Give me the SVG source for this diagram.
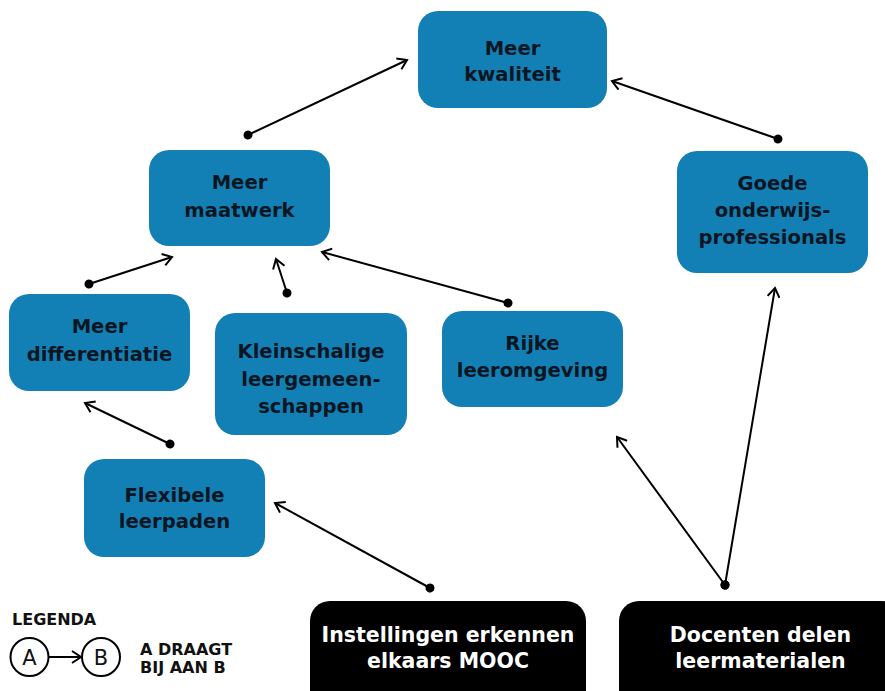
<svg xmlns="http://www.w3.org/2000/svg" width="885" height="691" viewBox="0 0 885 691">
  <style>
    .node rect { fill: #1380b5; }
    .node text { font-family: "DejaVu Sans", "Liberation Sans", sans-serif; font-weight: bold; font-size: 19.6px; fill: #0b1622; text-anchor: middle; }
    .root rect { fill: #000000; }
    .root text { font-family: "DejaVu Sans", "Liberation Sans", sans-serif; font-weight: bold; font-size: 20.5px; fill: #ffffff; text-anchor: middle; }
    .conn line { stroke: #000000; stroke-width: 2; marker-start: url(#dot); marker-end: url(#arrow); }
    .legend text { font-family: "DejaVu Sans", "Liberation Sans", sans-serif; font-weight: bold; font-size: 16px; fill: #111111; }
    .legend .letter { font-weight: normal; font-size: 21px; text-anchor: middle; }
    .legend circle { fill: #ffffff; stroke: #000000; stroke-width: 2; }
  </style>
  <defs>
    <marker id="arrow" markerUnits="userSpaceOnUse" viewBox="0 0 14 14" markerWidth="14" markerHeight="14" refX="12" refY="7" orient="auto">
      <path d="M3,1 L12,7 L3,13" fill="none" stroke="#000000" stroke-width="2"/>
    </marker>
    <marker id="dot" markerUnits="userSpaceOnUse" viewBox="0 0 10 10" markerWidth="10" markerHeight="10" refX="5" refY="5" orient="auto">
      <circle cx="5" cy="5" r="4.5" fill="#000000"/>
    </marker>
  </defs>
  <rect width="885" height="691" fill="#ffffff"/>

  <g id="node-kwaliteit" class="node">
    <rect x="418" y="11" width="189" height="97" rx="20"/>
    <text x="512.5" y="55">Meer</text>
    <text x="512.5" y="81">kwaliteit</text>
  </g>
  <g id="node-maatwerk" class="node">
    <rect x="149" y="150" width="181" height="96" rx="20"/>
    <text x="239.5" y="189">Meer</text>
    <text x="239.5" y="217">maatwerk</text>
  </g>
  <g id="node-professionals" class="node">
    <rect x="677" y="151" width="191" height="122" rx="20"/>
    <text x="772.5" y="190">Goede</text>
    <text x="772.5" y="217">onderwijs-</text>
    <text x="772.5" y="244">professionals</text>
  </g>
  <g id="node-differentiatie" class="node">
    <rect x="9" y="294" width="181" height="97" rx="20"/>
    <text x="99.5" y="333">Meer</text>
    <text x="99.5" y="361">differentiatie</text>
  </g>
  <g id="node-kleinschalig" class="node">
    <rect x="215" y="313" width="192" height="122" rx="20"/>
    <text x="311" y="358">Kleinschalige</text>
    <text x="311" y="386">leergemeen-</text>
    <text x="311" y="413">schappen</text>
  </g>
  <g id="node-leeromgeving" class="node">
    <rect x="442" y="311" width="181" height="96" rx="20"/>
    <text x="532.5" y="350">Rijke</text>
    <text x="532.5" y="377">leeromgeving</text>
  </g>
  <g id="node-leerpaden" class="node">
    <rect x="84" y="459" width="181" height="98" rx="20"/>
    <text x="174.5" y="502">Flexibele</text>
    <text x="174.5" y="528">leerpaden</text>
  </g>
  <g id="node-mooc" class="root">
    <rect x="310" y="601" width="276" height="110" rx="20"/>
    <text x="448" y="642">Instellingen erkennen</text>
    <text x="448" y="668">elkaars MOOC</text>
  </g>
  <g id="node-docenten" class="root">
    <rect x="619" y="601" width="283" height="110" rx="20"/>
    <text x="760.5" y="642">Docenten delen</text>
    <text x="760.5" y="668">leermaterialen</text>
  </g>

  <g id="connectors" class="conn">
    <line x1="248" y1="135" x2="407" y2="60"/>
    <line x1="778" y1="139" x2="612" y2="81"/>
    <line x1="89" y1="284" x2="172" y2="257"/>
    <line x1="287" y1="293" x2="276" y2="259"/>
    <line x1="508" y1="303" x2="322" y2="252"/>
    <line x1="170" y1="444" x2="85" y2="403"/>
    <line x1="430" y1="588" x2="275" y2="503"/>
    <line x1="725" y1="585" x2="617" y2="437"/>
    <line x1="725" y1="585" x2="775" y2="288"/>
  </g>

  <g id="legend" class="legend">
    <text x="12" y="625">LEGENDA</text>
    <line x1="49" y1="657" x2="81" y2="657" stroke="#000000" stroke-width="2" marker-end="url(#arrow)"/>
    <circle cx="29.5" cy="657" r="19"/>
    <circle cx="101" cy="657" r="19"/>
    <text class="letter" x="29.5" y="665">A</text>
    <text class="letter" x="101" y="665">B</text>
    <text x="140" y="655">A DRAAGT</text>
    <text x="140" y="673">BIJ AAN B</text>
  </g>
</svg>
